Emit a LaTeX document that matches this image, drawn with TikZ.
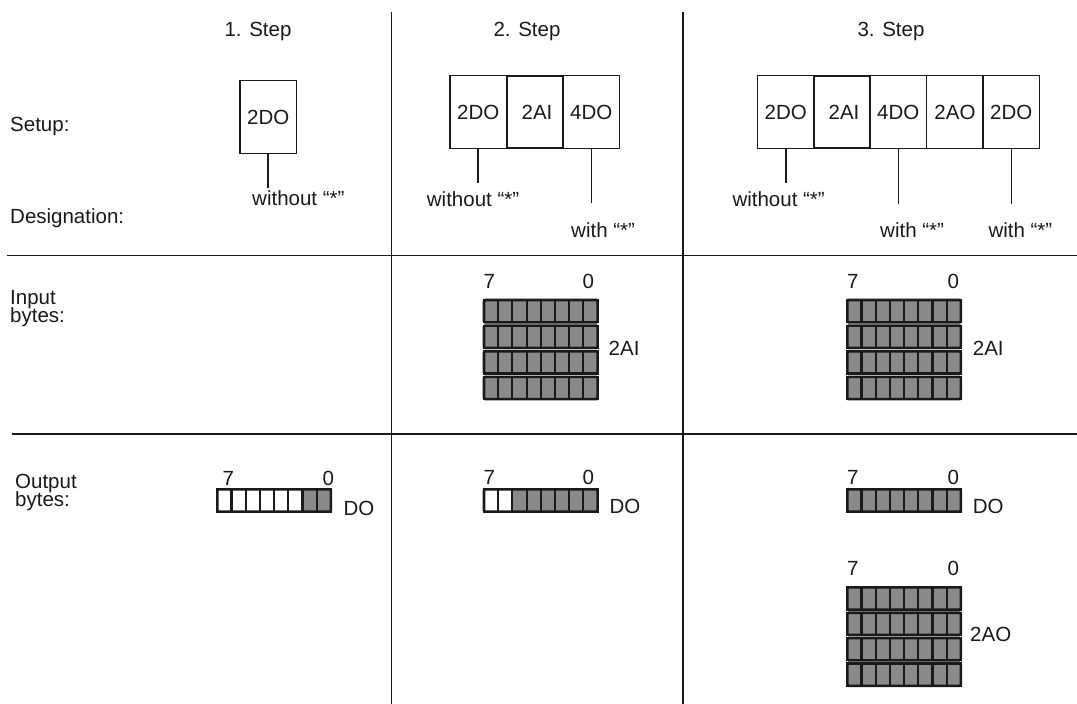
\documentclass[tikz,border=0pt]{standalone}
\usepackage{fontspec}
\setmainfont{Liberation Sans}
\definecolor{ink}{HTML}{1A1A1A}
\definecolor{cellgray}{HTML}{8A8A8A}
\newcommand\fsz{\fontsize{20.5}{24}\selectfont}
\tikzset{
  txt/.style={inner sep=0pt, anchor=base west, text=ink, font=\fsz},
  ctxt/.style={inner sep=0pt, anchor=base, text=ink, font=\fsz},
  modbox/.style={draw=ink, line width=1.1pt, minimum width=56.6pt, minimum height=72.6pt, inner sep=0pt, font=\fsz, text=ink},
  thickbox/.style={modbox, line width=2pt},
  conn/.style={draw=ink, line width=1pt},
  connthick/.style={draw=ink, line width=2pt},
  rulel/.style={draw=ink, line width=1.5pt},
  cellw/.style={draw=ink, line width=2.1pt, fill=white},
  cellg/.style={draw=ink, line width=2.1pt, fill=cellgray},
  rowframe/.style={draw=ink, line width=2.6pt, rounded corners=1.2pt},
}
% #1 = left x, #2 = top y, #3 = number of white cells
\newcommand\mybyterow[3]{%
  \foreach \i in {0,...,7}{%
    \ifnum\i<#3\relax
      \draw[cellw] ({#1+\i*14.2},#2) rectangle ++(14.2,22.3);
    \else
      \draw[cellg] ({#1+\i*14.2},#2) rectangle ++(14.2,22.3);
    \fi
  }%
  \draw[rowframe] (#1,#2) rectangle ++(113.6,22.3);%
}
\begin{document}
\begin{tikzpicture}[x=1pt,y=-1pt]
\useasboundingbox (0,0) rectangle (1077,704);
\fill[white] (0,0) rectangle (1077,704);

% grid lines
\draw[rulel] (391.5,12) -- (391.5,704);
\draw[rulel] (683,12) -- (683,704);
\draw[rulel] (7,255.7) -- (1077,255.7);
\draw[rulel] (12,434) -- (1077,434);

% headings
\node[ctxt] (h1) at (258,36.7) {1. Step};
\node[ctxt] (h2) at (527,36.7) {2. Step};
\node[ctxt] (h3) at (891,36.7) {3. Step};

% row labels
\node[txt] (setup) at (10,131.7) {Setup:};
\node[txt] (desig) at (10,223) {Designation:};
\node[txt] (in1) at (10,304) {Input};
\node[txt] (in2) at (10,322) {bytes:};
\node[txt] (out1) at (15,488.3) {Output};
\node[txt] (out2) at (15,506) {bytes:};

% step 1 setup
\node[modbox] (b1) at (268.3,117.2) {2DO};
\coordinate (e1) at (268.3,188);
\draw[connthick] (b1.south) -- (e1);
\node[txt] (w1) at (252,205) {without “*”};

% step 2 setup
\node[modbox] (b2a) at (478.3,112) {2DO};
\node[modbox] (b2c) at (591.3,112) {4DO};
\node[thickbox] (b2b) at (535,112) {\hspace*{4pt}2AI};
\coordinate (e2a) at (478.3,183);
\coordinate (e2c) at (591.3,203);
\draw[connthick] (b2a.south) -- (e2a);
\draw[conn] (b2c.south) -- (e2c);
\node[txt] (w2a) at (426.7,206.7) {without “*”};
\node[txt] (w2c) at (571,237) {with “*”};

% step 3 setup
\node[modbox] (b3a) at (785.7,112) {2DO};
\node[modbox] (b3c) at (898.3,112) {4DO};
\node[modbox] (b3d) at (955,112) {2AO};
\node[modbox] (b3e) at (1011.3,112) {2DO};
\node[thickbox] (b3b) at (842,112) {\hspace*{4pt}2AI};
\coordinate (e3a) at (785.7,183.3);
\coordinate (e3c) at (898.3,204);
\coordinate (e3e) at (1011.3,204);
\draw[connthick] (b3a.south) -- (e3a);
\draw[conn] (b3c.south) -- (e3c);
\draw[conn] (b3e.south) -- (e3e);
\node[txt] (w3a) at (732.3,206.7) {without “*”};
\node[txt] (w3c) at (880,237) {with “*”};
\node[txt] (w3e) at (988.3,237) {with “*”};

% step 2 input bytes
\foreach \k in {0,1,2,3}{\mybyterow{484}{300+\k*25.6}{0}}
\node[ctxt] (i2s) at (489.3,288.3) {7};
\node[ctxt] (i2e) at (588.3,288.3) {0};
\node[txt] (i2l) at (608.5,355) {2AI};

% step 3 input bytes
\foreach \k in {0,1,2,3}{\mybyterow{847.3}{300+\k*25.6}{0}}
\node[ctxt] (i3s) at (852.7,288.3) {7};
\node[ctxt] (i3e) at (953.3,288.3) {0};
\node[txt] (i3l) at (972.7,355) {2AI};

% step 1 output bytes
\mybyterow{217.3}{489.3}{6}
\node[ctxt] (o1s) at (228.3,485) {7};
\node[ctxt] (o1e) at (328.3,485) {0};
\node[txt] (o1l) at (343.3,515) {DO};

% step 2 output bytes
\mybyterow{484}{489.3}{2}
\node[ctxt] (o2s) at (489.3,484) {7};
\node[ctxt] (o2e) at (588.3,484) {0};
\node[txt] (o2l) at (609.3,513.3) {DO};

% step 3 output bytes
\mybyterow{847.3}{489.3}{0}
\node[ctxt] (o3s) at (852.7,484) {7};
\node[ctxt] (o3e) at (953.3,484) {0};
\node[txt] (o3l) at (972.7,513.3) {DO};

\foreach \k in {0,1,2,3}{\mybyterow{847.3}{587.3+\k*25.4}{0}}
\node[ctxt] (a3s) at (852.7,575) {7};
\node[ctxt] (a3e) at (953.3,575) {0};
\node[txt] (a3l) at (970,641.7) {2AO};
\end{tikzpicture}
\end{document}
